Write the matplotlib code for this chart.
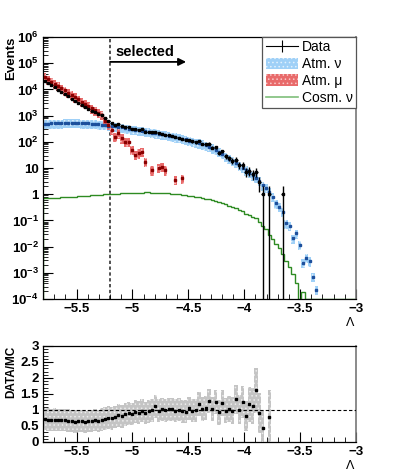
import numpy as np
import matplotlib
matplotlib.use("Agg")
import matplotlib.pyplot as plt
from matplotlib.lines import Line2D
from matplotlib.patches import Patch
from matplotlib.ticker import FixedLocator, MultipleLocator, FuncFormatter

plt.rcParams['font.family'] = ['Liberation Sans', 'DejaVu Sans']
plt.rcParams['font.weight'] = 'bold'
plt.rcParams['mathtext.fontset'] = 'custom'
plt.rcParams['mathtext.rm'] = 'Liberation Sans:bold'
plt.rcParams['mathtext.it'] = 'Liberation Sans:bold'
plt.rcParams['mathtext.bf'] = 'Liberation Sans:bold'
plt.rcParams['hatch.linewidth'] = 0.6

# binning in Lambda
lam_min = -5.8
bin_width = 0.03
cut = -5.2

# events per bin
data = [21585, 17354, 14146, 11831, 9670, 7898, 6642, 5377, 4419, 3581,
        3052, 2603, 2100, 1862, 1554, 1394, 1161, 1056, 780, 650,
        504, 427, 487, 395, 372, 375, 310, 305, 288, 300,
        245, 231, 231, 241, 209, 207, 190, 176, 166, 152,
        143, 132, 118, 119, 104, 95, 107, 84, 80, 86,
        60, 62, 39, 43, 28, 24, 19, 21, 13, 13,
        7, 8, 6, 7, 3, 1, 0, 1, 0, 0,
        0, 1, 0, 0, 0, 0, 0, 0, 0, 0,
        0, 0, 0, 0, 0, 0, 0, 0, 0, 0,
        0, 0, 0]

atm_nu = [479, 490, 501, 501, 513, 513, 525, 525, 525, 525,
          525, 513, 513, 501, 490, 479, 468, 447, 437, 417,
          398, 389, 372, 355, 331, 316, 302, 288, 275, 263,
          251, 240, 224, 214, 204, 191, 182, 170, 162, 151,
          141, 132, 123, 112, 105, 95.5, 89.1, 81.3, 74.1, 66.1,
          57.5, 49.0, 41.7, 34.7, 28.2, 22.9, 19.1, 15.5, 12.6, 10.2,
          8.3, 6.6, 5.2, 4.2, 3.2, 2.2, 1.8, 1.26, 0.79, 0.45,
          0.33, 0.21, 0.078, 0.063, 0.021, 0.032, 0.0115, 0.0024, 0.0038, 0.0028,
          0.0007, 0.00023, 0, 0, 0, 0, 0, 0, 0, 0,
          0, 0, 0]

atm_mu = [29500, 24300, 20000, 16400, 13500, 11100, 9100, 7500, 6170, 5070,
          4170, 3430, 2820, 2320, 1900, 1570, 1290, 1060, 630, 437,
          282, 158, 214, 138, 100, 100, 49, 32, 37, 42,
          17, 0, 8.3, 0, 10, 11, 8.3, 0, 0, 3.5,
          0, 4.0, 0, 0, 0, 0, 0, 0, 0, 0,
          0, 0, 0, 0, 0, 0, 0, 0, 0, 0,
          0, 0, 0, 0, 0, 0, 0, 0, 0, 0,
          0, 0, 0, 0, 0, 0, 0, 0, 0, 0,
          0, 0, 0, 0, 0, 0, 0, 0, 0, 0,
          0, 0, 0]

cosm_nu = [0.69, 0.70, 0.71, 0.72, 0.73, 0.76, 0.77, 0.78, 0.79, 0.81,
           0.83, 0.85, 0.86, 0.88, 0.90, 0.91, 0.93, 0.95, 0.98, 1.00,
           1.02, 1.04, 1.06, 1.08, 1.10, 1.12, 1.13, 1.14, 1.15, 1.16,
           1.17, 1.17, 1.16, 1.15, 1.14, 1.12, 1.10, 1.08, 1.05, 1.02,
           0.99, 0.96, 0.93, 0.89, 0.85, 0.80, 0.76, 0.72, 0.68, 0.64,
           0.60, 0.55, 0.50, 0.45, 0.41, 0.37, 0.33, 0.29, 0.25, 0.22,
           0.18, 0.16, 0.14, 0.12, 0.089, 0.063, 0.045, 0.028, 0.020, 0.0126,
           0.0089, 0.0050, 0.0028, 0.0016, 0.00089, 0.0004, 0, 0.00018, 0, 0,
           0, 0, 0, 0, 0, 0, 0, 0, 0, 0,
           0, 0, 0]

mc_rel_err = 0.38     # size of the MC boxes
ratio_sys = 0.35      # size of the grey boxes in the ratio

data = np.array(data, float)
atm_nu = np.array(atm_nu, float)
atm_mu = np.array(atm_mu, float)
cosm_nu = np.array(cosm_nu, float)
edges = lam_min + bin_width * np.arange(len(data) + 1)
centers = 0.5 * (edges[:-1] + edges[1:])

NU_FACE, NU_DOTS, NU_MARK = '#9fd0f7', '#e2f1fd', '#1c4f9c'
MU_FACE, MU_DOTS, MU_MARK = '#e86a6a', '#f9c8c8', '#8a0000'


def draw_boxes(ax, values, face, dots, marker_col):
    """
    MC prediction as boxes of +-mc_rel_err with a marker in the middle.
    """
    m = values > 0
    lo = values[m] * (1 - mc_rel_err)
    hi = values[m] * (1 + mc_rel_err)
    ax.bar(centers[m], hi - lo, bottom=lo, width=bin_width, color=face,
           edgecolor=dots, linewidth=0, hatch='....', zorder=2)
    ax.plot(centers[m], values[m], 's', ms=1.6, color=marker_col, zorder=3)


def log_label(v, pos):
    e = int(round(np.log10(v)))
    if e == 0:
        return '1'
    if e == 1:
        return '10'
    return r'$10^{%d}$' % e


def plain_label(v, pos):
    return ('%g' % v).replace('-', '\u2212')


fig = plt.figure(figsize=(3.99, 4.75), dpi=100)

# top panel
ax = fig.add_axes([0.1078, 0.3705, 0.7845, 0.5516])
ax.set_yscale('log')

draw_boxes(ax, atm_nu, NU_FACE, NU_DOTS, NU_MARK)
draw_boxes(ax, atm_mu, MU_FACE, MU_DOTS, MU_MARK)

ax.stairs(np.clip(cosm_nu, 1e-4, None), edges, color='#2e8b22', lw=1, zorder=2.5)

m = data > 0
err = np.sqrt(data[m])
ax.vlines(centers[m], np.clip(data[m] - err, 1e-7, None), data[m] + err,
          color='black', lw=1, zorder=4)
ax.hlines(data[m], centers[m] - bin_width / 2, centers[m] + bin_width / 2,
          color='black', lw=0.8, zorder=4)
ax.plot(centers[m], data[m], 's', ms=1.8, color='black', zorder=5)

ax.axvline(cut, color='#333333', lw=1.2, ls=(0, (2, 1.5)), zorder=1)
ax.annotate('', xy=(-4.52, 0.905), xytext=(cut, 0.905),
            xycoords=('data', 'axes fraction'),
            arrowprops=dict(arrowstyle='-|>', color='black', lw=1.3,
                            mutation_scale=11, shrinkA=0, shrinkB=0))
ax.text(cut + 0.05, 0.942, 'selected', transform=ax.get_xaxis_transform(),
        fontsize=10.5, fontweight='bold', va='center', ha='left')

ax.set_xlim(-5.8, -3.0)
ax.set_ylim(1e-4, 1e6)
ax.yaxis.set_major_locator(FixedLocator([10.0 ** e for e in range(-4, 7)]))
ax.yaxis.set_minor_locator(FixedLocator([k * 10.0 ** e for e in range(-4, 6) for k in range(2, 10)]))
ax.yaxis.set_major_formatter(FuncFormatter(log_label))

legend_handles = [
    Line2D([], [], color='black', lw=0.8, marker='|', ms=9, markeredgewidth=0.8),
    Patch(facecolor=NU_FACE, edgecolor=NU_DOTS, linewidth=0, hatch='....'),
    Patch(facecolor=MU_FACE, edgecolor=MU_DOTS, linewidth=0, hatch='....'),
    Line2D([], [], color='#7fbf7a', lw=1.2),
]
leg = ax.legend(legend_handles, ['Data', 'Atm. ν', 'Atm. μ', 'Cosm. ν'],
                loc='upper right', bbox_to_anchor=(1.0, 1.0), borderaxespad=0,
                fancybox=False, edgecolor='#555555', framealpha=1,
                prop={'size': 10, 'weight': 'normal'}, handlelength=2.3,
                handleheight=0.9, labelspacing=0.2, borderpad=0.25,
                handletextpad=0.3)
leg.get_frame().set_linewidth(0.9)

fig.text(11 / 399, 1 - 37 / 475, 'Events', rotation=90, ha='center', va='top',
         fontsize=9.5, fontweight='bold')
fig.text(350 / 399, 1 - 323 / 475, 'Λ', ha='center', va='center',
         fontsize=9, fontweight='normal')

# ratio panel
mc = atm_nu + atm_mu + cosm_nu
ratio = np.where(data > 0, data / np.where(mc > 0, mc, 1), np.nan)
show = (data > 0) & (ratio <= 3)
r = ratio[show]
r_err = np.sqrt(ratio_sys ** 2 + r ** 2 / data[show])

ax2 = fig.add_axes([0.1078, 0.0695, 0.7845, 0.2021])
lo = np.clip(r - r_err, 0, None)
ax2.bar(centers[show], np.minimum(r + r_err, 3) - lo, bottom=lo, width=bin_width,
        color='#c4c4c4', edgecolor='#ececec', linewidth=0, hatch='....', zorder=2)
ax2.plot(centers[show], r, 's', ms=2, color='black', zorder=4)
ax2.axhline(1, color='black', lw=0.8, ls=(0, (3, 2)), zorder=3)

ax2.set_xlim(-5.8, -3.0)
ax2.set_ylim(0, 3)
ax2.yaxis.set_major_locator(MultipleLocator(0.5))
ax2.yaxis.set_minor_locator(MultipleLocator(0.1))
ax2.yaxis.set_major_formatter(FuncFormatter(plain_label))

fig.text(11 / 399, 1 - 346 / 475, 'DATA/MC', rotation=90, ha='center', va='top',
         fontsize=8.5, fontweight='bold')
fig.text(350 / 399, 1 - 466 / 475, 'Λ', ha='center', va='center',
         fontsize=9, fontweight='normal')

for a in (ax, ax2):
    a.xaxis.set_major_locator(MultipleLocator(0.5))
    a.xaxis.set_minor_locator(MultipleLocator(0.1))
    a.xaxis.set_major_formatter(FuncFormatter(plain_label))
    a.tick_params(which='both', direction='in', top=False, right=False,
                  labelsize=9.5, pad=3)
    a.tick_params(which='major', length=7, width=0.8)
    a.tick_params(which='minor', length=3.5, width=0.6)
    for side in ('left', 'bottom', 'top'):
        a.spines[side].set_color('black')
        a.spines[side].set_linewidth(0.9)
    a.spines['right'].set_color('#777777')
    a.spines['right'].set_linewidth(1.2)

fig.savefig('out.png', dpi=100)
